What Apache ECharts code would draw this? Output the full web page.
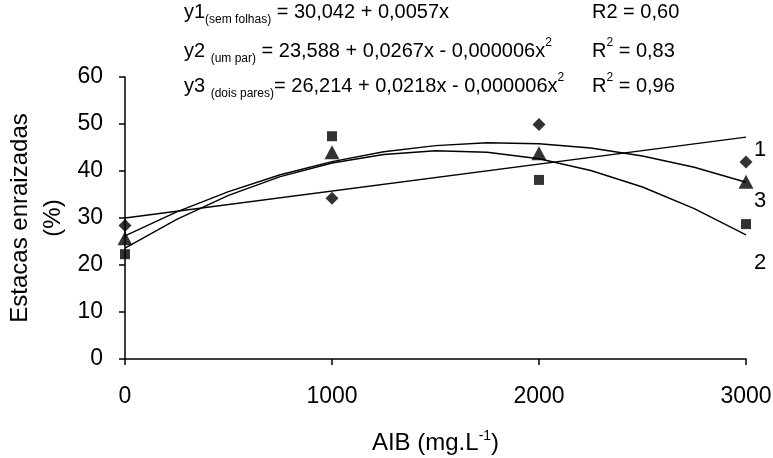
<!DOCTYPE html>
<html>
<head>
<meta charset="utf-8">
<script src="https://cdn.jsdelivr.net/npm/echarts@6/dist/echarts.min.js"></script>
<style>
  html, body { margin: 0; padding: 0; background: #fff; }
  #main { width: 773px; height: 458px; }
</style>
</head>
<body>
<div id="main"></div>
<script>
// doses de AIB (mg.L-1) e % de estacas enraizadas
const doses = [0, 1000, 2000, 3000];
const semFolhas = [28.4, 34.2, 49.9, 41.9];
const umPar = [22.3, 47.4, 38.1, 28.7];
const doisPares = [25.7, 44.0, 43.8, 37.7];

// curvas ajustadas
const fit1X = [0, 3000];
const fit1 = [30.0, 47.2];
const curveX = [0, 250, 500, 750, 1000, 1250, 1500, 1750, 2000, 2250, 2500, 2750, 3000];
const fit2 = [23.6, 29.7, 34.8, 38.8, 41.7, 43.5, 44.3, 44.0, 42.6, 40.1, 36.6, 32.0, 26.4];
const fit3 = [26.2, 31.3, 35.6, 39.2, 42.0, 44.1, 45.4, 46.0, 45.8, 44.9, 43.2, 40.8, 37.6];

const xTicks = [0, 1000, 2000, 3000];
const yTicks = [0, 10, 20, 30, 40, 50, 60];

const font = "'Liberation Sans', Arial, sans-serif";

function pairs(xs, ys) {
  return xs.map((x, i) => [x, ys[i]]);
}

const eqRich = {
  n: { fontSize: 20, fontFamily: font, color: '#000', lineHeight: 28 },
  s: { fontSize: 12, fontFamily: font, color: '#000', lineHeight: 12, verticalAlign: 'bottom' },
  p: { fontSize: 12, fontFamily: font, color: '#000', lineHeight: 20, verticalAlign: 'top' }
};

function eqText(left, top, text) {
  return {
    type: 'text',
    left: left,
    top: top,
    style: { text: text, rich: eqRich, fill: '#000' }
  };
}

const myChart = echarts.init(document.getElementById('main'));

const lineStyle = { color: '#000', width: 1.4 };

const option = {
  animation: false,
  backgroundColor: '#fff',
  grid: { left: 125, right: 27, top: 77, bottom: 99, containLabel: false, outerBoundsMode: 'none' },
  xAxis: {
    type: 'value',
    min: xTicks[0],
    max: xTicks[xTicks.length - 1],
    interval: 1000,
    name: '{a|AIB (mg.L}{b|-1}{a|)}',
    nameLocation: 'middle',
    nameGap: 70,
    nameMoveOverlap: false,
    nameTextStyle: {
      rich: {
        a: { fontSize: 24, fontFamily: font, color: '#000', lineHeight: 28 },
        b: { fontSize: 14, fontFamily: font, color: '#000', lineHeight: 18, verticalAlign: 'top' }
      }
    },
    axisLine: { lineStyle: { color: '#000', width: 1.5 } },
    axisTick: { inside: false, length: 6, lineStyle: { color: '#000', width: 1.5 } },
    axisLabel: { fontSize: 23, fontFamily: font, color: '#000', margin: 26, formatter: (v) => String(v) },
    splitLine: { show: false }
  },
  yAxis: {
    type: 'value',
    min: yTicks[0],
    max: yTicks[yTicks.length - 1],
    interval: 10,
    name: 'Estacas enraizadas\n(%)',
    nameLocation: 'middle',
    nameGap: 55,
    nameMoveOverlap: false,
    nameTextStyle: { fontSize: 24, fontFamily: font, color: '#000', lineHeight: 33, align: 'center' },
    axisLine: { show: true, lineStyle: { color: '#000', width: 1.5 } },
    axisTick: { show: true, inside: false, length: 6, lineStyle: { color: '#000', width: 1.5 } },
    axisLabel: { fontSize: 23, fontFamily: font, color: '#000', margin: 22 },
    splitLine: { show: false }
  },
  series: [
    {
      name: 'ajuste 1', type: 'line', data: pairs(fit1X, fit1),
      showSymbol: false, lineStyle: lineStyle, silent: true, z: 2
    },
    {
      name: 'ajuste 2', type: 'line', data: pairs(curveX, fit2),
      showSymbol: false, lineStyle: lineStyle, silent: true, z: 2
    },
    {
      name: 'ajuste 3', type: 'line', data: pairs(curveX, fit3),
      showSymbol: false, lineStyle: lineStyle, silent: true, z: 2
    },
    {
      name: 'sem folhas', type: 'scatter', data: pairs(doses, semFolhas),
      symbol: 'diamond', symbolSize: [13, 13], itemStyle: { color: '#000' }, z: 3
    },
    {
      name: 'um par', type: 'scatter', data: pairs(doses, umPar),
      symbol: 'rect', symbolSize: [10, 10], itemStyle: { color: '#000' }, z: 3
    },
    {
      name: 'dois pares', type: 'scatter', data: pairs(doses, doisPares),
      symbol: 'triangle', symbolSize: [15, 14], itemStyle: { color: '#000' }, z: 3
    }
  ],
  graphic: [
    eqText(184, 2, '{n|y1}{s|(sem folhas)}{n| = 30,042 + 0,0057x}'),
    eqText(184, 37, '{n|y2 }{s|(um par)}{n| = 23,588 + 0,0267x - 0,000006x}{p|2}'),
    eqText(184, 72, '{n|y3 }{s|(dois pares)}{n|= 26,214 + 0,0218x - 0,000006x}{p|2}'),
    eqText(592, 2, '{n|R2 = 0,60}'),
    eqText(592, 37, '{n|R}{p|2}{n| = 0,83}'),
    eqText(592, 72, '{n|R}{p|2}{n| = 0,96}'),
    { type: 'text', left: 754, top: 139, style: { text: '1', font: '22px ' + font, fill: '#000' } },
    { type: 'text', left: 754, top: 190, style: { text: '3', font: '22px ' + font, fill: '#000' } },
    { type: 'text', left: 754, top: 252, style: { text: '2', font: '22px ' + font, fill: '#000' } }
  ]
};

myChart.setOption(option);
</script>
</body>
</html>
